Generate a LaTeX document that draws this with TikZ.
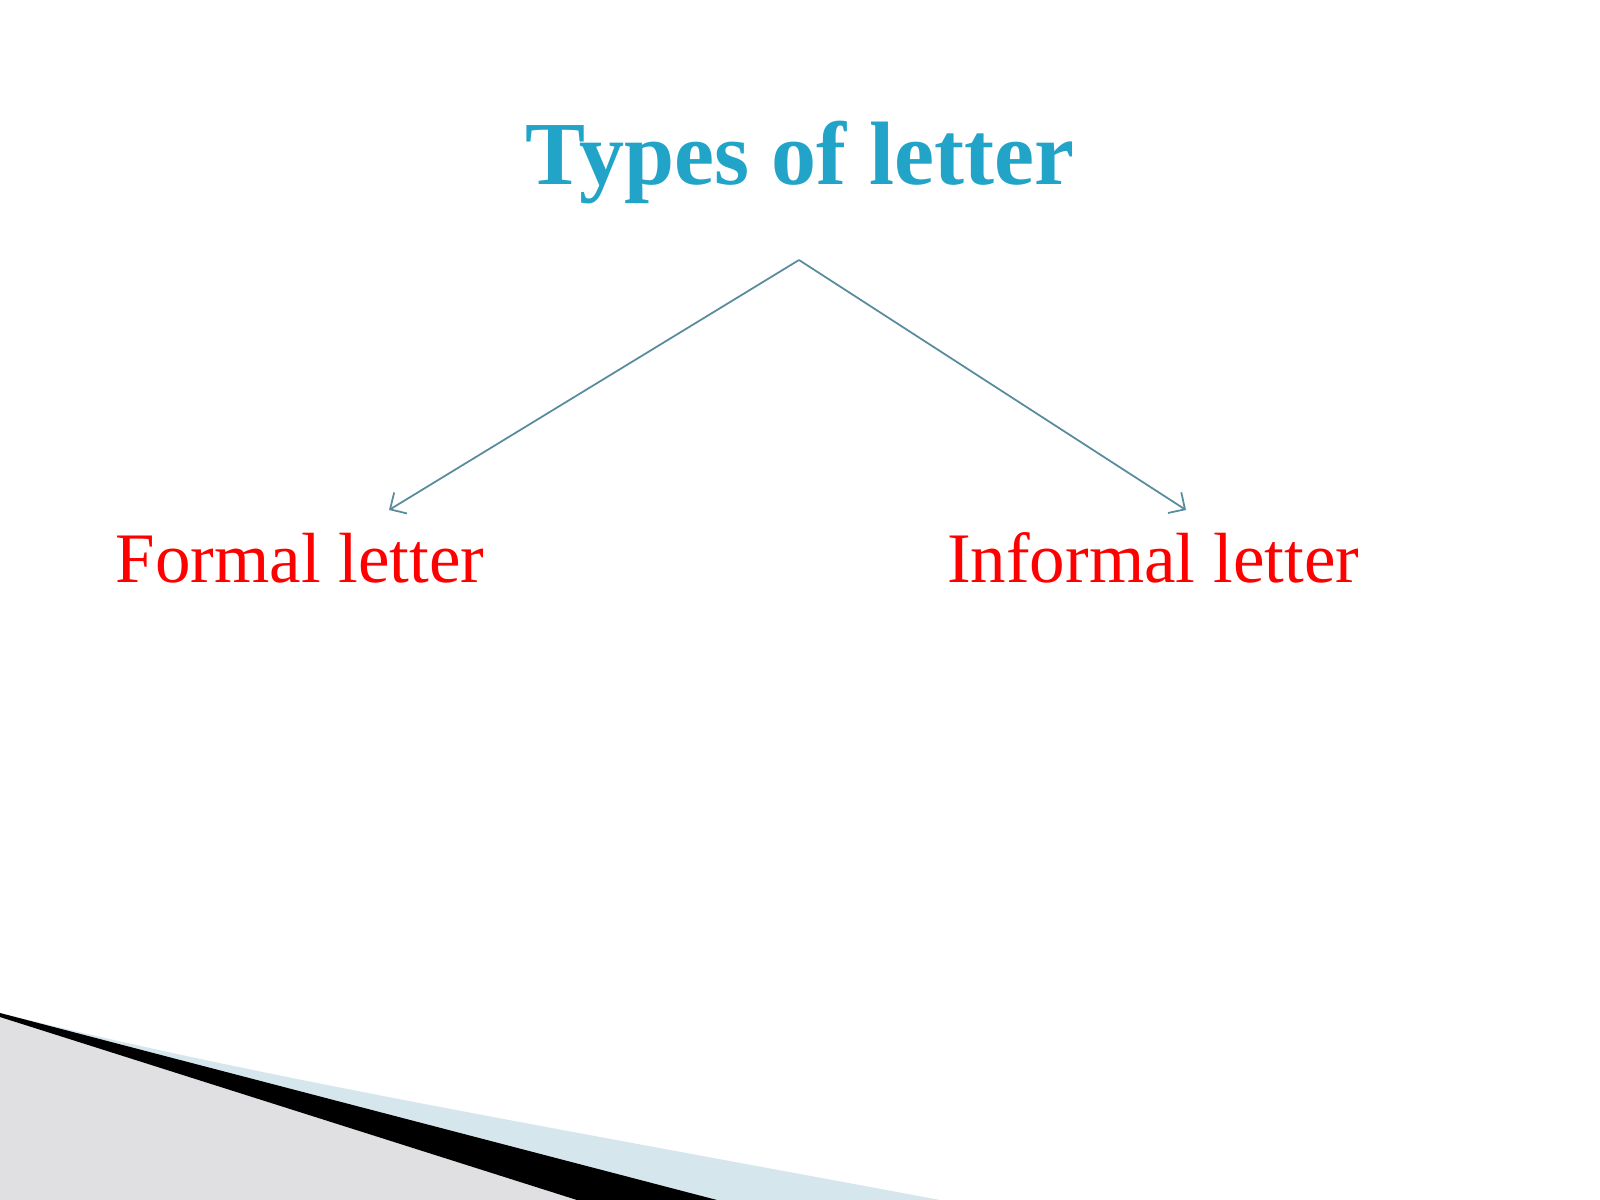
\documentclass[tikz,border=0pt]{standalone}
\usepackage{fontspec}
\setmainfont{Liberation Serif}
\usetikzlibrary{positioning,arrows.meta}
\definecolor{titleblue}{RGB}{34,164,200}
\definecolor{linkgray}{RGB}{88,140,156}
\definecolor{swooshblue}{RGB}{214,230,237}
\definecolor{swooshgray}{RGB}{224,224,226}
\tikzset{
  ttl/.style={font=\bfseries\fontsize{25.6}{30}\selectfont, text=titleblue, inner sep=0pt},
  kind/.style={font=\fontsize{20.2}{24}\selectfont, text=red, inner sep=0pt},
  ln/.style={draw=linkgray, line width=0.5pt, -{Straight Barb[length=3.5pt,width=7pt]}},
  node distance=4.61cm
}
\begin{document}
\begin{tikzpicture}[x=0.01cm, y=-0.01cm]
	\fill[white] (0,0) rectangle (1600,1200);
	% swoosh in the corner
	\fill[swooshblue] (0,1013) .. controls (250,1075) and (500,1118) .. (940,1200) -- (0,1200) -- cycle;
	\fill[swooshgray] (0,1017) -- (577,1200) -- (0,1200) -- cycle;
	\fill[black] (0,1013) -- (717,1200) -- (577,1200) -- (0,1017) -- cycle;
	\node[ttl, anchor=base] (title) at (800,184) {Types of letter};
	\node[kind, anchor=base] (formal) at (300,582) {Formal letter};
	\node[kind, right=of formal] (informal) {Informal letter};
	\coordinate (apex) at (799,260);
	\coordinate (ftip) at (389,510);
	\coordinate (itip) at (1186,510);
	\draw[ln] (apex) -- (ftip);
	\draw[ln] (apex) -- (itip);
\end{tikzpicture}
\end{document}
